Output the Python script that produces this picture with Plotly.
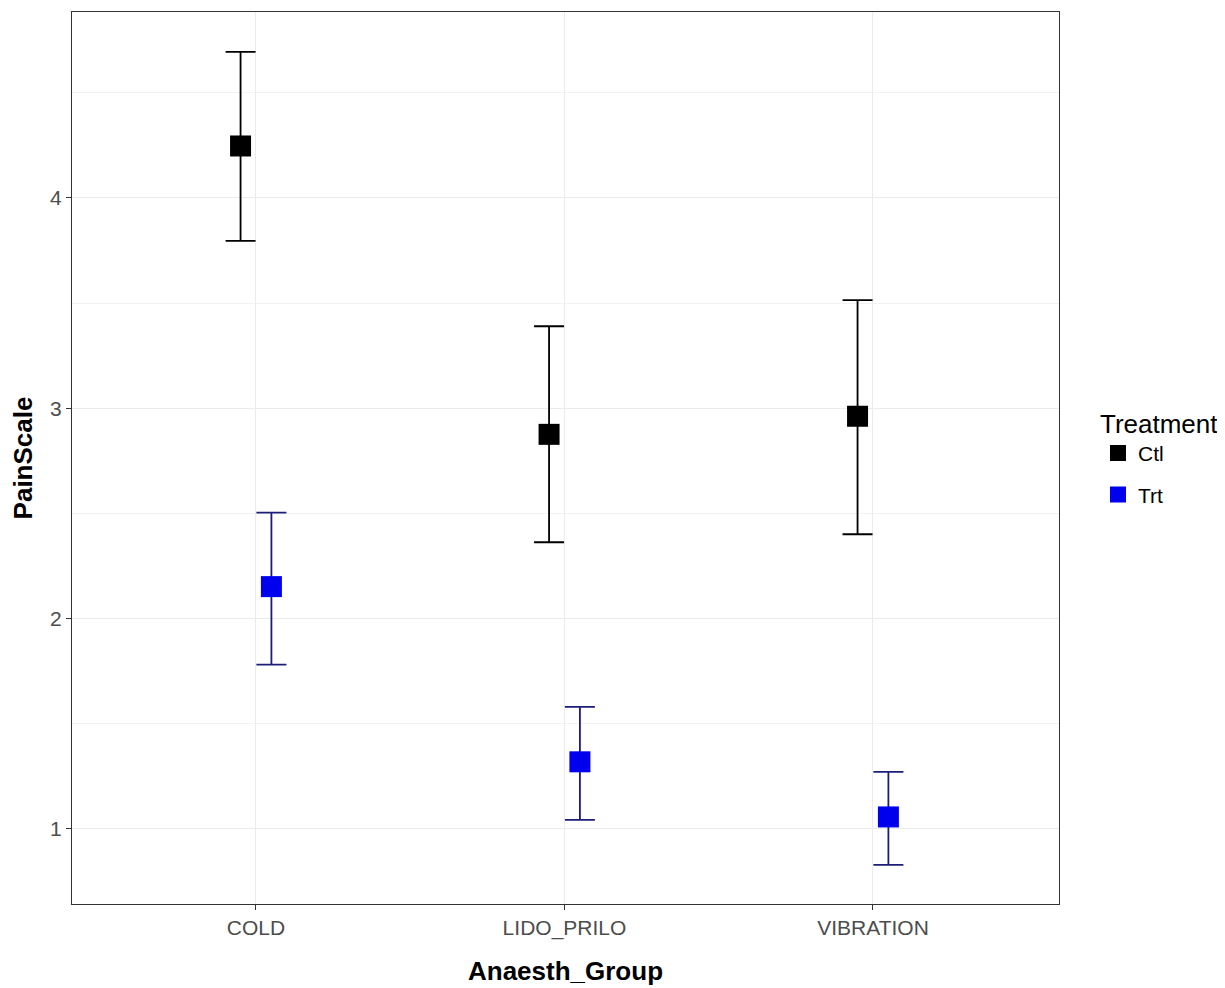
import plotly.graph_objects as go

groups = ["COLD", "LIDO_PRILO", "VIBRATION"]
ctl_mean = [4.247, 2.876, 2.962]
ctl_upper = [4.694, 3.390, 3.514]
ctl_lower = [3.796, 2.363, 2.401]
trt_mean = [2.152, 1.319, 1.057]
trt_upper = [2.504, 1.580, 1.271]
trt_lower = [1.781, 1.043, 0.829]

fig = go.Figure()

def add_series(name, mean, upper, lower, mcolor, ecolor):
    fig.add_trace(go.Scatter(
        x=groups, y=mean, name=name, mode="markers", legendgroup=name,
        marker=dict(symbol="square", size=21, color=mcolor, line=dict(width=0)),
        error_y=dict(type="data", symmetric=False,
                     array=[u - m for u, m in zip(upper, mean)],
                     arrayminus=[m - l for m, l in zip(mean, lower)],
                     color=ecolor, thickness=1.8, width=15),
    ))

add_series("Ctl", ctl_mean, ctl_upper, ctl_lower, "#000000", "#000000")
add_series("Trt", trt_mean, trt_upper, trt_lower, "#0000ee", "#1e1e78")

font_family = "Liberation Sans, Arial, sans-serif"
fig.update_layout(
    width=1225, height=988,
    margin=dict(l=64, r=174, t=4, b=92),
    paper_bgcolor="white", plot_bgcolor="white",
    scattermode="group", scattergap=0.8,
    font=dict(family=font_family, color="#4d4d4d", size=21),
    legend=dict(
        title=dict(text="Treatment", font=dict(size=26, color="#000000")),
        font=dict(size=21, color="#000000"),
        x=1.0395, xanchor="left", y=0.566, yanchor="top",
        traceorder="grouped", tracegroupgap=11,
        itemsizing="trace",
    ),
    xaxis=dict(
        range=[-0.5964, 2.603],
        title=dict(text="<b>Anaesth_Group</b>", font=dict(size=26, color="#000000"), standoff=22),
        showgrid=True, gridcolor="#ebebeb", gridwidth=1,
        showline=True, linecolor="#333333", linewidth=1.3, mirror=True,
        ticks="outside", ticklen=5, tickcolor="#333333",
        tickfont=dict(size=21, color="#4d4d4d"),
        zeroline=False,
    ),
    yaxis=dict(
        range=[0.643, 4.884],
        title=dict(text="<b>PainScale</b>", font=dict(size=26, color="#000000"), standoff=12),
        tickmode="linear", tick0=0, dtick=1,
        showgrid=True, gridcolor="#ebebeb", gridwidth=1,
        minor=dict(showgrid=True, gridcolor="#f2f2f2", gridwidth=1, tick0=0.5, dtick=1),
        showline=True, linecolor="#333333", linewidth=1.3, mirror=True,
        ticks="outside", ticklen=5, tickcolor="#333333",
        tickfont=dict(size=21, color="#4d4d4d"),
        zeroline=False,
    ),
)

fig.write_html("out.html")
